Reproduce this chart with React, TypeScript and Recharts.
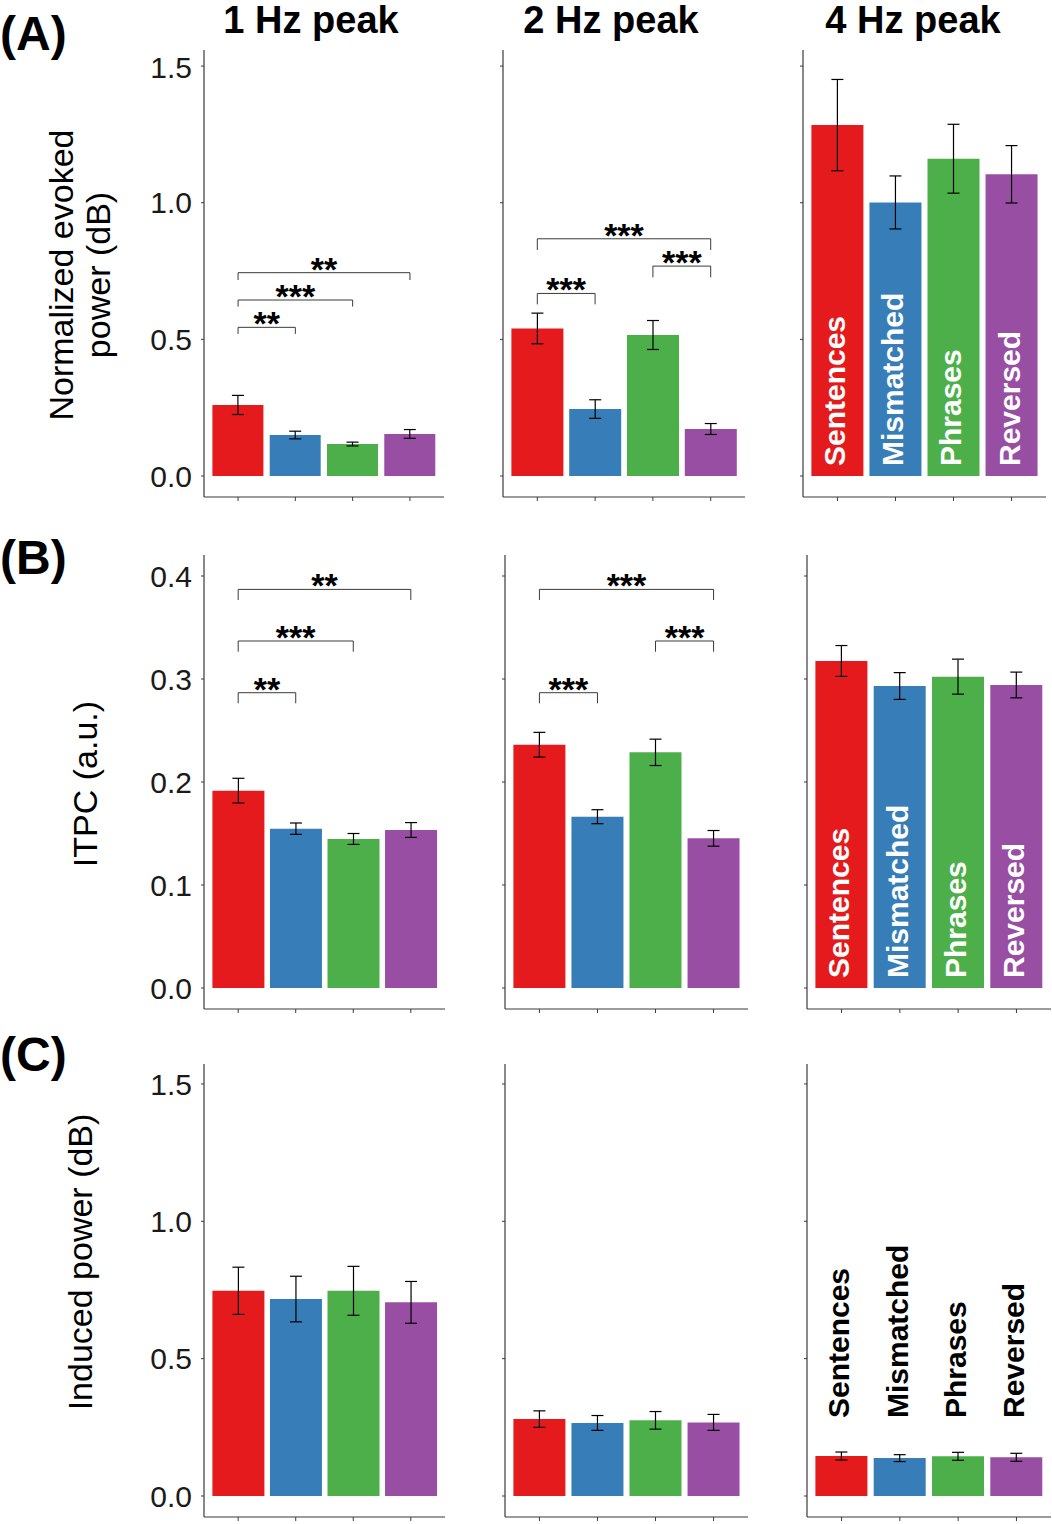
import { BarChart, Bar, XAxis, YAxis, Cell, ErrorBar, ReferenceLine, LabelList } from 'recharts';

const FONT = '"Liberation Sans", Arial, Helvetica, sans-serif';
const AXIS = '#3a3a3a';

const conditions = ['Sentences', 'Mismatched', 'Phrases', 'Reversed'];
const barColors = ['#E41A1C', '#377EB8', '#4DAF4A', '#984EA3'];
const peakTitles = ['1 Hz peak', '2 Hz peak', '4 Hz peak'];
const panelLetters = ['(A)', '(B)', '(C)'];

// (A) normalized evoked power (dB)
const evoked1Hz = [0.26, 0.15, 0.117, 0.154];
const evoked1HzSem = [0.035, 0.014, 0.007, 0.016];
const evoked2Hz = [0.54, 0.245, 0.516, 0.172];
const evoked2HzSem = [0.056, 0.034, 0.053, 0.02];
const evoked4Hz = [1.284, 1.001, 1.161, 1.104];
const evoked4HzSem = [0.167, 0.097, 0.126, 0.105];
const evokedTicks = [0, 0.5, 1.0, 1.5];
const evokedDomain = [-0.0768, 1.5588];

// (B) ITPC
const itpc1Hz = [0.1916, 0.1547, 0.1447, 0.1534];
const itpc1HzSem = [0.012, 0.0055, 0.0053, 0.0072];
const itpc2Hz = [0.2362, 0.1663, 0.2288, 0.1453];
const itpc2HzSem = [0.012, 0.0068, 0.0128, 0.0076];
const itpc4Hz = [0.3175, 0.2932, 0.3023, 0.2942];
const itpc4HzSem = [0.015, 0.013, 0.017, 0.0125];
const itpcTicks = [0, 0.1, 0.2, 0.3, 0.4];
const itpcDomain = [-0.0204, 0.4204];

// (C) induced power (dB)
const induced1Hz = [0.747, 0.717, 0.747, 0.705];
const induced1HzSem = [0.086, 0.083, 0.089, 0.076];
const induced2Hz = [0.28, 0.266, 0.2755, 0.268];
const induced2HzSem = [0.03, 0.027, 0.032, 0.029];
const induced4Hz = [0.1456, 0.138, 0.1445, 0.141];
const induced4HzSem = [0.0145, 0.0125, 0.0145, 0.0145];
const inducedTicks = [0, 0.5, 1.0, 1.5];
const inducedDomain = [-0.0764, 1.5726];

// significance brackets (condition indices, bracket height, leg end)
const evoked1HzSig = [
  { from: 0, to: 1, y: 0.544, end: 0.52, stars: '**' },
  { from: 0, to: 2, y: 0.644, end: 0.62, stars: '***' },
  { from: 0, to: 3, y: 0.744, end: 0.717, stars: '**' },
];
const evoked2HzSig = [
  { from: 0, to: 1, y: 0.668, end: 0.628, stars: '***' },
  { from: 2, to: 3, y: 0.768, end: 0.727, stars: '***' },
  { from: 0, to: 3, y: 0.868, end: 0.827, stars: '***' },
];
const itpc1HzSig = [
  { from: 0, to: 1, y: 0.2867, end: 0.2764, stars: '**' },
  { from: 0, to: 2, y: 0.3369, end: 0.3265, stars: '***' },
  { from: 0, to: 3, y: 0.387, end: 0.3767, stars: '**' },
];
const itpc2HzSig = [
  { from: 0, to: 1, y: 0.2867, end: 0.2764, stars: '***' },
  { from: 2, to: 3, y: 0.3369, end: 0.3265, stars: '***' },
  { from: 0, to: 3, y: 0.387, end: 0.3767, stars: '***' },
];

// plot boxes [left, right] per row/column, [top, bottom] per row
const rowY = [[50, 497], [555, 1009], [1064, 1517]];
const colX = [
  [[204, 444], [503, 745], [803, 1046]],
  [[204, 445], [505, 748], [807, 1051]],
  [[204, 445], [505, 748], [807, 1051]],
];

const rows = [
  {
    ticks: evokedTicks, domain: evokedDomain, names: 'inside',
    panels: [
      { values: evoked1Hz, sem: evoked1HzSem, sig: evoked1HzSig },
      { values: evoked2Hz, sem: evoked2HzSem, sig: evoked2HzSig },
      { values: evoked4Hz, sem: evoked4HzSem, sig: [] },
    ],
  },
  {
    ticks: itpcTicks, domain: itpcDomain, names: 'inside',
    panels: [
      { values: itpc1Hz, sem: itpc1HzSem, sig: itpc1HzSig },
      { values: itpc2Hz, sem: itpc2HzSem, sig: itpc2HzSig },
      { values: itpc4Hz, sem: itpc4HzSem, sig: [] },
    ],
  },
  {
    ticks: inducedTicks, domain: inducedDomain, names: 'above',
    panels: [
      { values: induced1Hz, sem: induced1HzSem, sig: [] },
      { values: induced2Hz, sem: induced2HzSem, sig: [] },
      { values: induced4Hz, sem: induced4HzSem, sig: [] },
    ],
  },
];

const emptyTick = () => <g />;

const starLabel = (text: string) => (props: any) => {
  const vb = props.viewBox || {};
  const x = (vb.x ?? 0) + (vb.width ?? 0) / 2;
  const y = (vb.y ?? 0) + 8;
  return (
    <text x={x} y={y} textAnchor="middle" fontSize={34} fontWeight="bold" fontFamily={FONT} fill="#000">
      {text}
    </text>
  );
};

const nameLabel = (mode: string) => (props: any) => {
  const vb = props.viewBox || props;
  const cx = Number(vb.x) + Number(vb.width) / 2 + 8;
  const zero = Number(vb.y) + Number(vb.height);
  const by = mode === 'inside' ? zero - 10 : zero - 78;
  return (
    <text
      x={cx}
      y={by}
      transform={`rotate(-90 ${cx} ${by})`}
      textAnchor="start"
      fontSize={30}
      fontWeight="bold"
      fontFamily={FONT}
      fill={mode === 'inside' ? '#fff' : '#000'}
    >
      {props.value}
    </text>
  );
};

function Panel({ row, col }: { row: number; col: number }) {
  const cfg = rows[row];
  const panel = cfg.panels[col];
  const [L, R] = colX[row][col];
  const [T, B] = rowY[row];
  const yw = 70;
  const xh = 10;
  const data = conditions.map((name, i) => ({ name, value: panel.values[i], sem: panel.sem[i] }));

  return (
    <div style={{ position: 'absolute', left: L - yw, top: T }}>
      <BarChart
        width={R - L + yw}
        height={B - T + xh}
        data={data}
        margin={{ top: 0, right: 0, bottom: 0, left: 0 }}
        barCategoryGap={3}
      >
        <XAxis
          dataKey="name"
          type="category"
          height={xh}
          interval={0}
          padding={{ left: 5.4, right: 5.4 }}
          tickSize={4}
          tick={emptyTick}
          axisLine={{ stroke: AXIS, strokeWidth: 1.2 }}
          tickLine={{ stroke: AXIS }}
        />
        <YAxis
          type="number"
          width={yw}
          domain={cfg.domain}
          ticks={cfg.ticks}
          allowDataOverflow
          tickSize={3}
          tickMargin={9}
          axisLine={{ stroke: AXIS, strokeWidth: 1.2 }}
          tickLine={{ stroke: AXIS }}
          tickFormatter={(v: number) => v.toFixed(1)}
          tick={col === 0 ? { fontSize: 30, fill: '#1a1a1a', fontFamily: FONT } : emptyTick}
        />
        {panel.sig.map((s, k) => (
          <ReferenceLine
            key={`h${k}`}
            segment={[{ x: conditions[s.from], y: s.y }, { x: conditions[s.to], y: s.y }]}
            stroke={AXIS}
            strokeWidth={1}
            label={starLabel(s.stars)}
          />
        ))}
        {panel.sig.map((s, k) => (
          <ReferenceLine
            key={`l${k}`}
            segment={[{ x: conditions[s.from], y: s.y }, { x: conditions[s.from], y: s.end }]}
            stroke={AXIS}
            strokeWidth={1}
          />
        ))}
        {panel.sig.map((s, k) => (
          <ReferenceLine
            key={`r${k}`}
            segment={[{ x: conditions[s.to], y: s.y }, { x: conditions[s.to], y: s.end }]}
            stroke={AXIS}
            strokeWidth={1}
          />
        ))}
        <Bar dataKey="value" isAnimationActive={false}>
          {data.map((d, i) => (
            <Cell key={d.name} fill={barColors[i]} />
          ))}
          <ErrorBar dataKey="sem" width={6} stroke="#000" strokeWidth={1.2} isAnimationActive={false} />
          {col === 2 && <LabelList dataKey="name" content={nameLabel(cfg.names)} />}
        </Bar>
      </BarChart>
    </div>
  );
}

export default function App() {
  const titleCenters = [311, 611, 913];
  const letterBaselines = [50, 574, 1071];
  return (
    <div style={{ position: 'absolute', left: 0, top: 0, width: 1052, height: 1524, background: '#fff', overflow: 'hidden' }}>
      {[0, 1, 2].map((r) => [0, 1, 2].map((c) => <Panel key={`${r}-${c}`} row={r} col={c} />))}
      <svg width={1052} height={1524} style={{ position: 'absolute', left: 0, top: 0, pointerEvents: 'none' }}>
        <g fontFamily={FONT} fill="#000">
          {peakTitles.map((t, i) => (
            <text key={t} x={titleCenters[i]} y={33} textAnchor="middle" fontSize={38} fontWeight="bold">
              {t}
            </text>
          ))}
          {panelLetters.map((t, i) => (
            <text key={t} x={0} y={letterBaselines[i]} fontSize={48} fontWeight="bold">
              {t}
            </text>
          ))}
          <text x={73} y={275} transform="rotate(-90 73 275)" textAnchor="middle" fontSize={34}>
            Normalized evoked
          </text>
          <text x={110} y={275} transform="rotate(-90 110 275)" textAnchor="middle" fontSize={34}>
            power (dB)
          </text>
          <text x={97} y={784} transform="rotate(-90 97 784)" textAnchor="middle" fontSize={34}>
            ITPC (a.u.)
          </text>
          <text x={92} y={1262} transform="rotate(-90 92 1262)" textAnchor="middle" fontSize={34}>
            Induced power (dB)
          </text>
        </g>
      </svg>
    </div>
  );
}
